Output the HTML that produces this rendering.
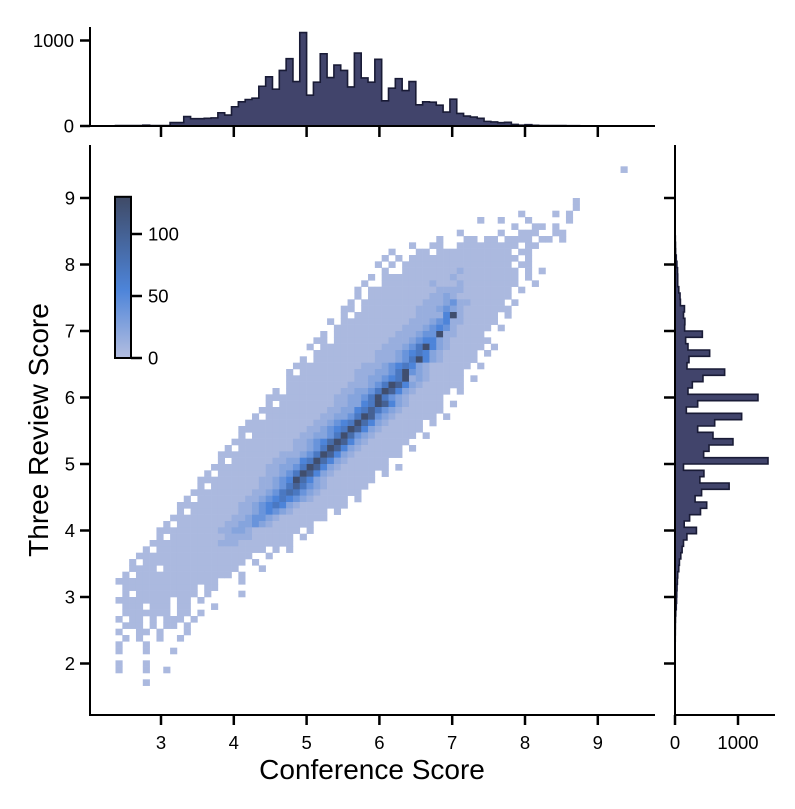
<!DOCTYPE html>
<html><head><meta charset="utf-8"><style>
html,body{margin:0;padding:0;background:#fff;}
svg{display:block;font-family:"Liberation Sans",Arial,sans-serif;}
</style></head><body>
<svg id="chart" width="795" height="809" viewBox="0 0 795 809" xmlns="http://www.w3.org/2000/svg">
<g id="heat"></g>
<g id="topHist"></g>
<g id="rightHist"></g>
<g id="axes"></g>
<g id="cbar"></g>
<text x="372" y="779" font-size="28" text-anchor="middle">Conference Score</text>
<text x="0" y="0" font-size="28" text-anchor="middle" transform="translate(48,430) rotate(-90)">Three Review Score</text>
</svg>
<script>
// ---- data ----
const xTicks = [3,4,5,6,7,8,9];
const yTicks = [2,3,4,5,6,7,8,9];
const cbarTicks = [0,50,100];
const topHistTicks = [0,1000];
const rightHistTicks = [0,1000];
const topBinStart = 2.375;
const topBinWidth = 0.09375;
const topCounts = [5,5,5,5,10,5,5,5,40,40,110,85,85,90,95,155,128,225,283,310,325,465,575,430,650,787,520,1093,360,512,845,566,713,650,457,853,562,512,780,295,442,554,415,520,248,283,279,244,163,314,147,116,105,90,54,47,39,43,19,10,15,8,6,5,5,5,4,4,3,3,3,3,2,2,2,2,2,2];
const rightBinStart = 1.6667;
const rightBinWidth = 0.095238;
const rightCounts = [1,1,2,2,2,3,3,4,5,6,8,12,20,25,
 28,32,38,43,60,70,92,113,135,189,340,146,232,405,503,319,422,859,395,459,135,
 1476,455,540,920,603,360,630,1058,180,360,1317,206,275,444,788,190,222,550,206,169,434,
 153,157,135,150,86,80,60,43,43,40,30,20,10,8,5,3,2,2,2,1,1,1,1,0,0,1];
// heatmap: rows keyed by y-bin index k (lower edge 5 + k*w), start column, level string
const heatRowK = [46,41,40,39,38,37,36,35,34,33,32,31,30,29,28,27,26,25,24,23,22,21,20,19,18,17,16,15,14,13,12,11,10,9,8,7,6,5,4,3,2,1,0,-1,-2,-3,-4,-5,-6,-7,-8,-9,-10,-11,-12,-13,-14,-15,-16,-17,-18,-19,-20,-21,-22,-23,-24,-25,-26,-27,-28,-29,-30,-32,-33,-35];
const heatRowStart = [74,67,67,59,53,58,50,47,43,40,39,38,38,37,36,35,34,34,33,32,31,31,30,29,28,28,27,26,25,25,24,23,22,22,21,20,19,18,18,17,16,15,15,14,13,12,12,11,10,9,9,8,7,6,6,5,4,3,2,2,1,0,0,0,0,1,0,0,1,0,0,0,0,0,0,4];
const heatRowLevels = [
"1","1","1","10000101","10010001000001","1001101","1000001001110011","1000110110111101101","10011001111111110110","100011011111111111011","1010111111111111111101","10101111111111111111011","0100111111112111111110101","101111111111211111111101","10011111112111211111111001","1011111111112222111111101","010111111111223211111111","1011111111122234221111101","1101111111122234321111111","01011111111122225921111101","1011111111112223452211111","01111111111222345421111101","101111111112223449221111","11011111111222345532111111","1011111111122234695321111101","011111111122234565321111101","10111111111222346953211111","1111111111222345653211111101","10111111112223346943211111","1111111111223345692321111101","011111111122234698532111111","1011111111223346985321111101","11111111112233469643211111","1011111111223356985321111101","111111111122335686432111111","10111111112233469843211111101","1111111111223456975321111101","111111111122345698532111111","1011111112233469743211111101","11111111122345798532111111","1011111111223469853211111101","111111111222346985321111111","1011111122335697532111111","1111111122334698532111111101","101111111223469853211111101","11111111122345975321111111","1011111112234686432111111","1111111112234676432111111","10111111122345654321111101","1111111112234565321111111","101111111223454321111101","11111111122344321111111","1011111112233432111111","11111111122332111111101","1011111111222211111101","111111111122211111111","1011111111111111110101","11111111111111111001","1011111111111111101","11110111111111110001","101111111111111101","1111111111111110001","011111111111011","0101111111110100001","1111111101101","11101110110001","0111111101101","101101011101","1110101101","10011010001","0101001001","10001","100010001","1000100","10001001","1"];
const levelCounts = [0,5,15,25,40,55,70,85,100,125];

// ---- scales ----
const X0=90, X1=655, Y0=145, Y1=715;
function sx(v){return 161+(v-3)*72.8;}
function sy(v){return 198-(v-9)*66.5;}
function topY(c){return 126-c*0.0855;}
function rightX(c){return 675+c*0.063;}
const NS="http://www.w3.org/2000/svg";
function mk(tag,attrs,parent){const e=document.createElementNS(NS,tag);for(const k in attrs)e.setAttribute(k,attrs[k]);parent.appendChild(e);return e;}
function lerp(a,b,t){return a+(b-a)*t;}
const stops=[[0,[180,190,224]],[55,[77,132,217]],[130,[63,74,102]]];
function cmap(v){
  for(let i=0;i<stops.length-1;i++){const [a,ca]=stops[i],[b,cb]=stops[i+1];
    if(v<=b){const t=Math.max(0,(v-a)/(b-a));return `rgb(${Math.round(lerp(ca[0],cb[0],t))},${Math.round(lerp(ca[1],cb[1],t))},${Math.round(lerp(ca[2],cb[2],t))})`;}}
  return 'rgb(63,74,102)';
}

// ---- heatmap ----
const heat=document.getElementById('heat');
for(let r=0;r<heatRowK.length;r++){
  const k=heatRowK[r], s=heatRowStart[r], lv=heatRowLevels[r];
  const yLo=5+k*rightBinWidth, yHi=yLo+rightBinWidth;
  for(let i=0;i<lv.length;i++){
    const L=+lv[i]; if(!L) continue;
    const xLo=topBinStart+(s+i)*topBinWidth, xHi=xLo+topBinWidth;
    const c=mk('rect',{x:sx(xLo).toFixed(2),y:sy(yHi).toFixed(2),width:(sx(xHi)-sx(xLo)+0.3).toFixed(2),height:(sy(yLo)-sy(yHi)+0.3).toFixed(2),fill:cmap(levelCounts[L])},heat);
    
    
  }
}

// ---- top histogram ----
const th=document.getElementById('topHist');
let d=`M${sx(topBinStart)},${topY(0)}`;
topCounts.forEach((c,i)=>{const a=sx(topBinStart+i*topBinWidth),b=sx(topBinStart+(i+1)*topBinWidth);d+=` L${a.toFixed(2)},${topY(c).toFixed(2)} L${b.toFixed(2)},${topY(c).toFixed(2)}`;});
d+=` L${sx(topBinStart+topCounts.length*topBinWidth)},${topY(0)} Z`;
const tp=mk('path',{d:d,fill:'#41446b',stroke:'#191b36','stroke-width':1.6,'stroke-linejoin':'miter'},th);



// ---- right histogram ----
const rh=document.getElementById('rightHist');
let d2=`M${rightX(0)},${sy(rightBinStart)}`;
rightCounts.forEach((c,i)=>{const a=sy(rightBinStart+i*rightBinWidth),b=sy(rightBinStart+(i+1)*rightBinWidth);d2+=` L${rightX(c).toFixed(2)},${a.toFixed(2)} L${rightX(c).toFixed(2)},${b.toFixed(2)}`;});
d2+=` L${rightX(0)},${sy(rightBinStart+rightCounts.length*rightBinWidth)} Z`;
const rp=mk('path',{d:d2,fill:'#41446b',stroke:'#191b36','stroke-width':1.6},rh);



// ---- axes ----
const ax=document.getElementById('axes');
function line(x1,y1,x2,y2,w,name){const l=mk('line',{x1,y1,x2,y2,stroke:'#000','stroke-width':w},ax);return l;}
function txt(x,y,s,anchor,name){const t=mk('text',{x,y,'font-size':18.5,'text-anchor':anchor},ax);t.textContent=s;return t;}
line(X0,Y0,X0,Y1+1,2,'main-y-axis');
line(X0-1,Y1,X1,Y1,2,'main-x-axis');
xTicks.forEach(v=>{line(sx(v),Y1,sx(v),Y1+10,2.5,'x-tick');txt(sx(v),749,String(v),'middle','x-tick-label');
  line(sx(v),126,sx(v),137,2.5,'top-x-tick');});
yTicks.forEach(v=>{line(X0-10,sy(v),X0,sy(v),2.5,'y-tick');txt(75,sy(v)+6.5,String(v),'end','y-tick-label');
  line(664,sy(v),675,sy(v),2.5,'right-y-tick');});
line(X0,27,X0,127,2,'top-y-axis');
line(X0-1,126,X1,126,2,'top-x-axis');
topHistTicks.forEach(v=>{line(X0-10,topY(v),X0,topY(v),2.5,'top-count-tick');txt(74,topY(v)+6.5,String(v),'end','top-count-label');});
line(675,Y0,675,Y1+1,2,'right-y-axis');
line(674,Y1,775,Y1,2,'right-x-axis');
rightHistTicks.forEach(v=>{line(rightX(v),Y1,rightX(v),Y1+10,2.5,'right-count-tick');txt(rightX(v),749,String(v),'middle','right-count-label');});

// ---- colorbar ----
const cb=document.getElementById('cbar');
const defs=mk('defs',{},cb);
const g=mk('linearGradient',{id:'cg',x1:0,y1:1,x2:0,y2:0},defs);
[[0,0],[55,55/130],[130,1]].forEach(([v,o])=>mk('stop',{offset:o,'stop-color':cmap(v)},g));
function cby(v){return 358-v*1.24;}
const cr=mk('rect',{x:115,y:cby(130),width:16,height:cby(0)-cby(130),fill:'url(#cg)',stroke:'#000','stroke-width':2},cb);


cbarTicks.forEach(v=>{const l=mk('line',{x1:131,y1:cby(v),x2:142,y2:cby(v),stroke:'#000','stroke-width':2.5},cb);
  
  const t=mk('text',{x:148,y:cby(v)+6.5,'font-size':18.5},cb);t.textContent=String(v);
  });
</script>
</body></html>
